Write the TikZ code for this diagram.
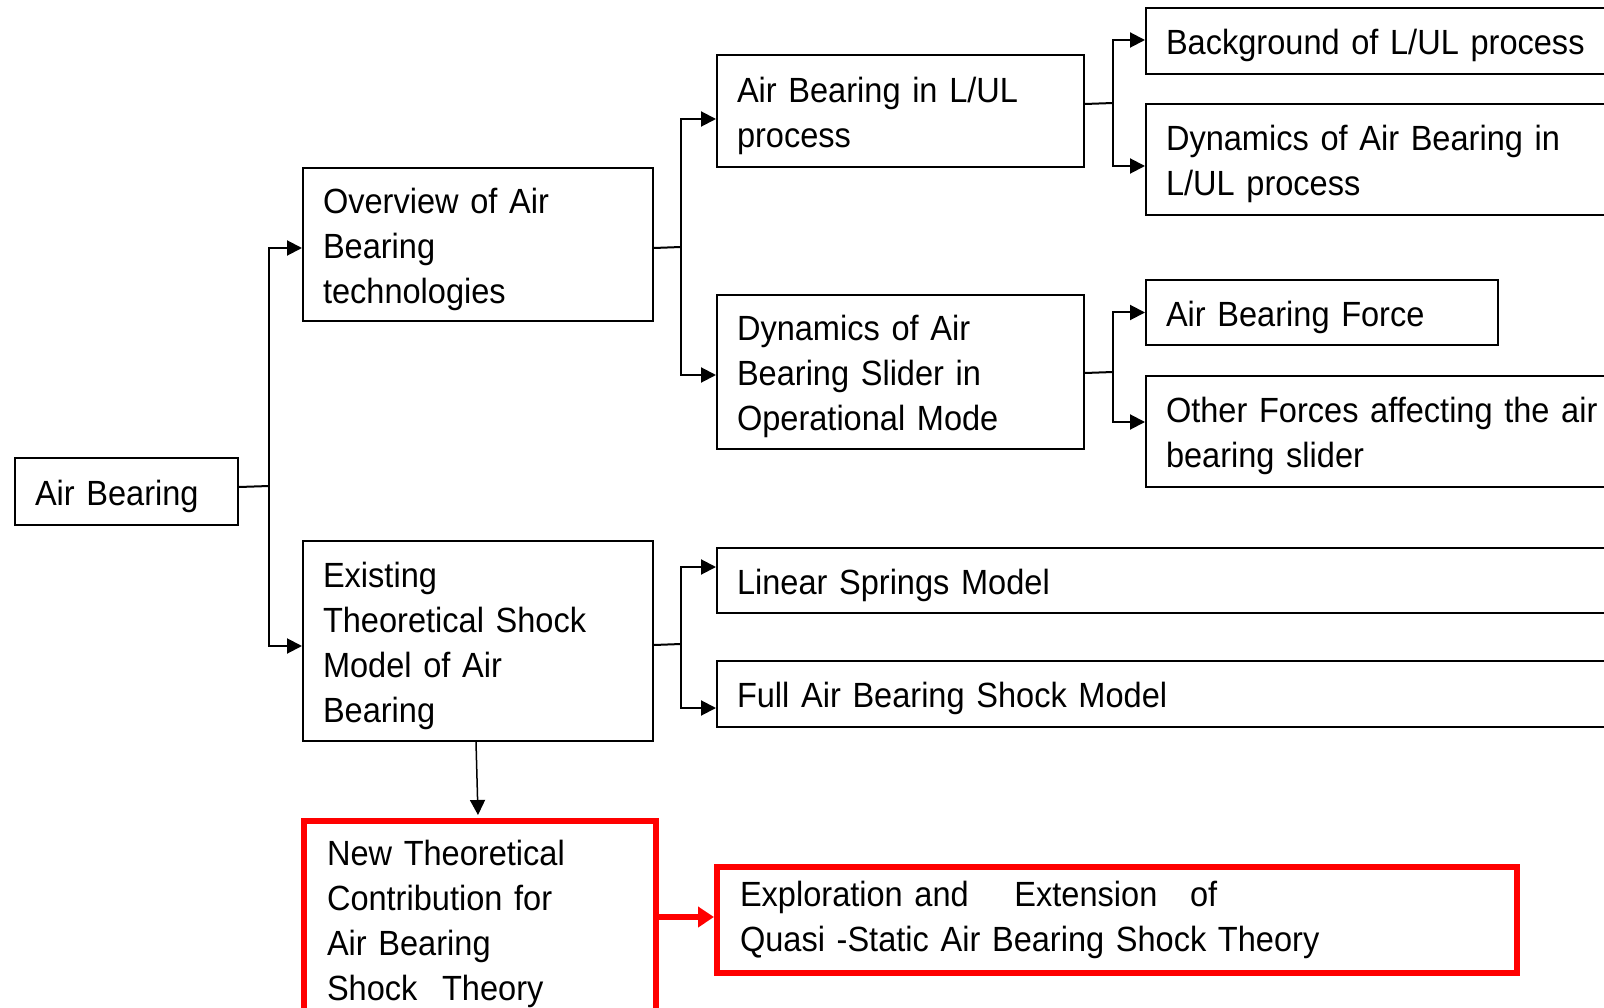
\documentclass[tikz,border=0pt]{standalone}
\usepackage{fontspec}
\setmainfont{Liberation Sans}[FakeStretch=0.93]
\usetikzlibrary{arrows.meta}
\definecolor{hlred}{RGB}{255,0,0}
\begin{document}
\begin{tikzpicture}[x=1pt,y=-1pt,
  basebox/.style={draw, line width=2pt, rectangle, anchor=north west,
    inner xsep=20pt, inner ysep=0pt, align=left,
    font=\fontsize{35pt}{45pt}\selectfont},
  box/.style={basebox, execute at begin node={\rule{0pt}{35pt}}},
  redbox/.style={basebox, draw=hlred, line width=6pt, inner xsep=23pt},
  link/.style={line width=2pt},
  arr/.style={line width=2pt, -{Triangle[length=15pt,width=15pt]}},
  redarr/.style={draw=hlred, line width=6pt, -{Triangle[length=16pt,width=20pt]}, fill=hlred}]
\useasboundingbox (0,0) rectangle (1604,1008);
\fill[white] (0,0) rectangle (1604,1008);
\clip (0,0) rectangle (1604,1008);

% root
\node[box, text width=183pt, minimum height=67pt] (ab) at (14,457) {Air Bearing};

% first level
\node[box, text width=310pt, minimum height=153pt] (ov) at (302,167) {Overview of Air\\Bearing\\technologies};
\node[box, text width=310pt, minimum height=200pt] (ex) at (302,540) {Existing\\Theoretical Shock\\Model of Air\\Bearing};

% second level
\node[box, text width=327pt, minimum height=112pt] (lul) at (716,54) {Air Bearing in L/UL\\process};
\node[box, text width=327pt, minimum height=154pt] (sl) at (716,294) {Dynamics of Air\\Bearing Slider in\\Operational Mode};
\node[box, text width=884pt, minimum height=65pt] (ls) at (716,547) {Linear Springs Model};
\node[box, text width=884pt, minimum height=66pt] (fs) at (716,660) {Full Air Bearing Shock Model};

% third level
\node[box, text width=455pt, minimum height=66pt] (bg) at (1145,7) {Background of L/UL process};
\node[box, text width=455pt, minimum height=111pt] (dyn) at (1145,103) {Dynamics of Air Bearing in\\L/UL process};
\node[box, text width=312pt, minimum height=65pt] (abf) at (1145,279) {Air Bearing Force};
\node[box, text width=455pt, minimum height=111pt] (of) at (1145,375) {Other Forces affecting the air\\bearing slider};

% new contribution
\node[redbox, text width=306pt, minimum height=205pt] (nt) at (301,818) {New Theoretical\\Contribution for\\Air Bearing\\Shock\hspace{13pt} Theory};
\node[redbox, text width=754pt, minimum height=106pt] (xq) at (714,864) {Exploration and\hspace{34pt} Extension\hspace{21pt} of\\Quasi -Static Air Bearing Shock Theory};

% junctions
\coordinate (j1) at (269,486);
\coordinate (j2) at (681,247);
\coordinate (j3) at (681,644);
\coordinate (j4) at (1113,103);
\coordinate (j5) at (1113,372);

% root to first level
\draw[link] ([yshift=4.5pt]ab.east) -- (j1);
\draw[arr] (j1) |- ([yshift=-3.5pt]ov.west);
\draw[arr] (j1) |- ([yshift=-5pt]ex.west);

% first to second level
\draw[link] ([yshift=-3.5pt]ov.east) -- (j2);
\draw[arr] (j2) |- ([yshift=-8pt]lul.west);
\draw[arr] (j2) |- ([yshift=-3pt]sl.west);
\draw[link] ([yshift=-4pt]ex.east) -- (j3);
\draw[arr] (j3) |- ([yshift=13.5pt]ls.west);
\draw[arr] (j3) |- ([yshift=-14pt]fs.west);

% second to third level
\draw[link] ([yshift=7pt]lul.east) -- (j4);
\draw[arr] (j4) |- ([yshift=1pt]bg.west);
\draw[arr] (j4) |- ([yshift=-6.5pt]dyn.west);
\draw[link] ([yshift=-1pt]sl.east) -- (j5);
\draw[arr] (j5) |- (abf.west);
\draw[arr] (j5) |- ([yshift=9.5pt]of.west);

% towards the new contribution
\draw[arr, line width=1.5pt] ([xshift=-2pt]ex.south) -- ([xshift=-2pt,yshift=3pt]nt.north);
\draw[redarr] ([yshift=6.5pt]nt.east) -- ([yshift=6.5pt]nt.east -| xq.west);
\end{tikzpicture}
\end{document}
